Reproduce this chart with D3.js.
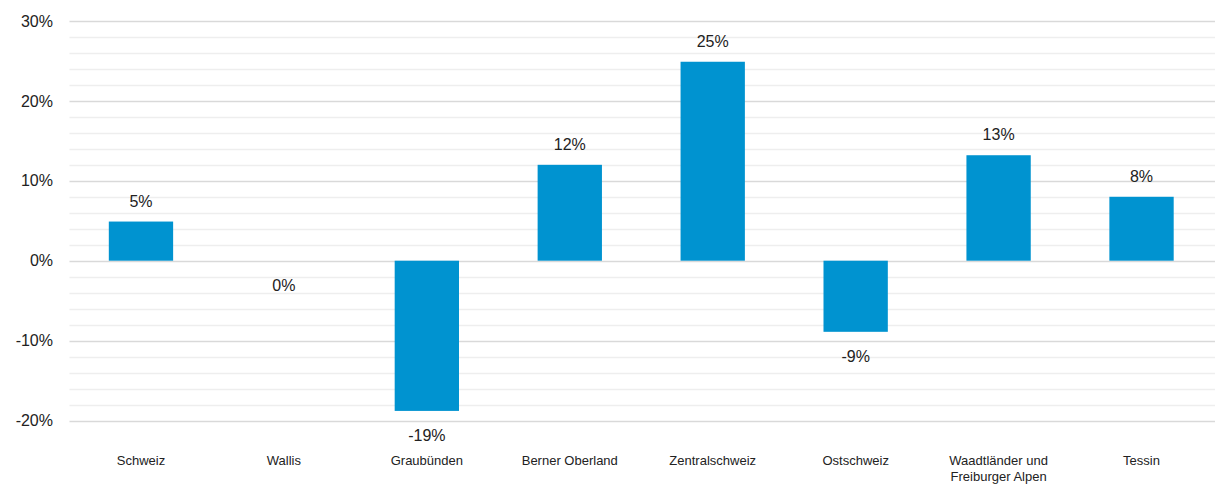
<!DOCTYPE html>
<html><head><meta charset="utf-8">
<script src="https://cdn.jsdelivr.net/npm/d3@7"></script>
<style>body{margin:0;background:#fff;}svg{display:block;font-family:"Liberation Sans",Arial,sans-serif;}</style>
</head><body>
<svg id="c" width="1218" height="484"></svg>
<script>
const categories = ["Schweiz","Wallis","Graubünden","Berner Oberland","Zentralschweiz","Ostschweiz","Waadtländer und Freiburger Alpen","Tessin"];
const categoryLines = [["Schweiz"],["Wallis"],["Graubünden"],["Berner Oberland"],["Zentralschweiz"],["Ostschweiz"],["Waadtländer und","Freiburger Alpen"],["Tessin"]];
const values = [4.9, 0, -18.8, 12.0, 24.9, -8.9, 13.2, 8.0];
const valueLabels = ["5%","0%","-19%","12%","25%","-9%","13%","8%"];
const majorTicks = [-20,-10,0,10,20,30];
const minorTicks = d3.range(-20, 31, 2);

(function(){
const svg = d3.select("#c");
const pLeft = 69.5, pRight = 1213, pTop = 21, pBottom = 420.5;
const x = d3.scaleBand().domain(categories).range([pLeft, pRight]).paddingInner(0.55).paddingOuter(0.275);
const y = d3.scaleLinear().domain([-20, 30]).range([pBottom, pTop]);

svg.append("g").selectAll("line").data(minorTicks.filter(t => t % 10 !== 0)).join("line")
  .attr("x1", pLeft).attr("x2", pRight + 2)
  .attr("y1", d => Math.round(y(d)) + 0.5).attr("y2", d => Math.round(y(d)) + 0.5)
  .attr("stroke", "#eeeeee").attr("stroke-width", 1.3);
svg.append("g").selectAll("line").data(majorTicks).join("line")
  .attr("x1", pLeft).attr("x2", pRight + 2)
  .attr("y1", d => Math.round(y(d)) + 0.5).attr("y2", d => Math.round(y(d)) + 0.5)
  .attr("stroke", "#d9d9d9").attr("stroke-width", 1.3);

svg.append("g").selectAll("text").data(majorTicks).join("text")
  .attr("x", 53).attr("y", d => y(d)).attr("dy", "0.35em")
  .attr("text-anchor", "end").attr("font-size", 16).attr("fill", "#222")
  .text(d => d + "%");

svg.append("g").selectAll("rect").data(values).join("rect")
  .attr("x", (d, i) => x(categories[i]))
  .attr("width", x.bandwidth())
  .attr("y", d => y(Math.max(0, d)))
  .attr("height", d => Math.abs(y(d) - y(0)))
  .attr("fill", "#0093d0");

svg.append("g").selectAll("text").data(values).join("text")
  .attr("x", (d, i) => x(categories[i]) + x.bandwidth() / 2)
  .attr("y", d => d > 0 ? y(d) - 15 : y(d) + 30)
  .attr("text-anchor", "middle").attr("font-size", 16).attr("fill", "#222")
  .text((d, i) => valueLabels[i]);

const cl = svg.append("g").selectAll("text").data(categoryLines).join("text")
  .attr("x", (d, i) => x(categories[i]) + x.bandwidth() / 2)
  .attr("y", 465)
  .attr("text-anchor", "middle").attr("font-size", 13).attr("fill", "#222");
cl.selectAll("tspan").data(d => d).join("tspan")
  .attr("x", function(){ return this.parentNode.getAttribute("x"); })
  .attr("dy", (d, j) => j === 0 ? 0 : 16)
  .text(d => d);
})();
</script>
</body></html>
